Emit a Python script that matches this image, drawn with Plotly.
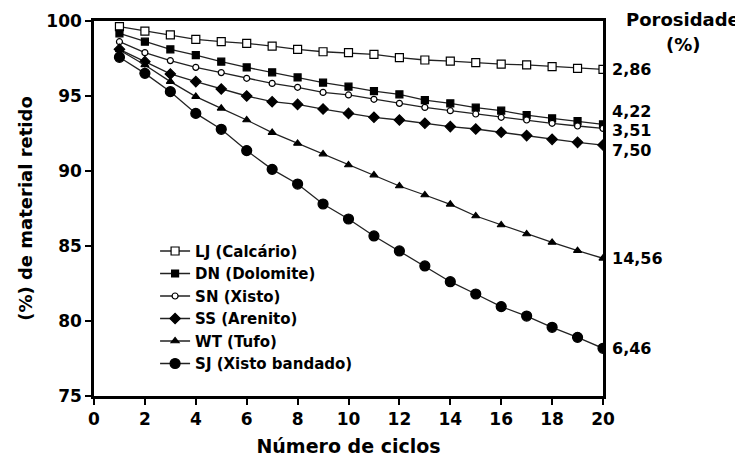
import plotly.graph_objects as go

cycles = list(range(1, 21))

names = ["LJ (Calcário)", "DN (Dolomite)", "SN (Xisto)", "SS (Arenito)", "WT (Tufo)", "SJ (Xisto bandado)"]

lj = [99.62, 99.33, 99.07, 98.78, 98.62, 98.51, 98.33, 98.11, 97.95, 97.89,
      97.78, 97.56, 97.40, 97.33, 97.22, 97.13, 97.07, 96.96, 96.84, 96.78]
dn = [99.18, 98.62, 98.11, 97.73, 97.29, 96.91, 96.58, 96.24, 95.89, 95.62,
      95.33, 95.11, 94.73, 94.51, 94.22, 94.02, 93.73, 93.51, 93.33, 93.11]
sn = [98.62, 97.89, 97.36, 96.91, 96.56, 96.18, 95.84, 95.58, 95.24, 95.07,
      94.78, 94.51, 94.24, 94.02, 93.80, 93.58, 93.40, 93.18, 93.00, 92.84]
ss = [98.11, 97.29, 96.47, 95.96, 95.47, 95.00, 94.62, 94.44, 94.13, 93.84,
      93.58, 93.40, 93.18, 92.96, 92.80, 92.58, 92.36, 92.11, 91.91, 91.73]
wt = [98.07, 97.07, 95.96, 94.96, 94.18, 93.40, 92.56, 91.84, 91.13, 90.40,
      89.73, 89.00, 88.40, 87.78, 87.00, 86.40, 85.80, 85.24, 84.69, 84.18]
sj = [97.58, 96.51, 95.29, 93.84, 92.78, 91.36, 90.11, 89.13, 87.80, 86.80,
      85.67, 84.67, 83.67, 82.62, 81.80, 80.96, 80.33, 79.58, 78.91, 78.18]

porosity = ["2,86", "4,22", "3,51", "7,50", "14,56", "6,46"]

x_ticks = list(range(0, 21, 2))
y_ticks = [75, 80, 85, 90, 95, 100]

series = [lj, dn, sn, ss, wt, sj]

# styles
symbols = ["square", "square", "circle", "diamond", "triangle-up", "circle"]
fills = ["white", "black", "white", "black", "black", "black"]
sizes = [8, 7, 6, 8, 7, 10]
label_yshift = [0, 13, -2, -5, 0, 0]

FONT = "DejaVu Sans"

fig = go.Figure()
for name, vals, sym, fc, sz in zip(names, series, symbols, fills, sizes):
    fig.add_trace(go.Scatter(
        x=cycles, y=vals, mode="lines+markers", name=name,
        line=dict(color="#222222", width=1.3),
        marker=dict(symbol=sym, size=sz, color=fc,
                    line=dict(color="black", width=1.2)),
    ))

for vals, lab, ys in zip(series, porosity, label_yshift):
    fig.add_annotation(x=cycles[-1], y=vals[-1], xref="x", yref="y",
                       text=lab, showarrow=False, xanchor="left",
                       xshift=7, yshift=ys,
                       font=dict(family=FONT, size=16, color="black", weight="bold"))

head_font = dict(family=FONT, size=18, color="black", weight="bold")
fig.add_annotation(x=1.158, y=1.005, xref="paper", yref="paper",
                   text="Porosidade", showarrow=False,
                   xanchor="center", yanchor="middle", font=head_font)
fig.add_annotation(x=1.158, y=0.936, xref="paper", yref="paper",
                   text="(%)", showarrow=False,
                   xanchor="center", yanchor="middle", font=head_font)

axis_common = dict(showline=True, linecolor="black", linewidth=2.5, mirror=True,
                   ticks="outside", ticklen=6, tickwidth=2, tickcolor="black",
                   showgrid=False, zeroline=False, automargin=False,
                   tickfont=dict(family=FONT, size=17, color="black", weight="bold"))

fig.update_xaxes(range=[0, 20], tickvals=x_ticks,
                 title=dict(text="Número de ciclos", standoff=12,
                            font=dict(family=FONT, size=19, color="black", weight="bold")),
                 **axis_common)
fig.update_yaxes(range=[75, 100], tickvals=y_ticks,
                 title=dict(text="(%) de material retido", standoff=10,
                            font=dict(family=FONT, size=18, color="black", weight="bold")),
                 **axis_common)

fig.update_layout(
    width=735, height=449,
    margin=dict(l=86, r=140, t=13, b=61, autoexpand=False),
    plot_bgcolor="white", paper_bgcolor="white",
    legend=dict(x=0.12, y=0.43, xanchor="left", yanchor="top",
                bgcolor="rgba(0,0,0,0)", tracegroupgap=0,
                font=dict(family=FONT, size=15, color="black", weight="bold")),
)

fig.write_html("out.html")
